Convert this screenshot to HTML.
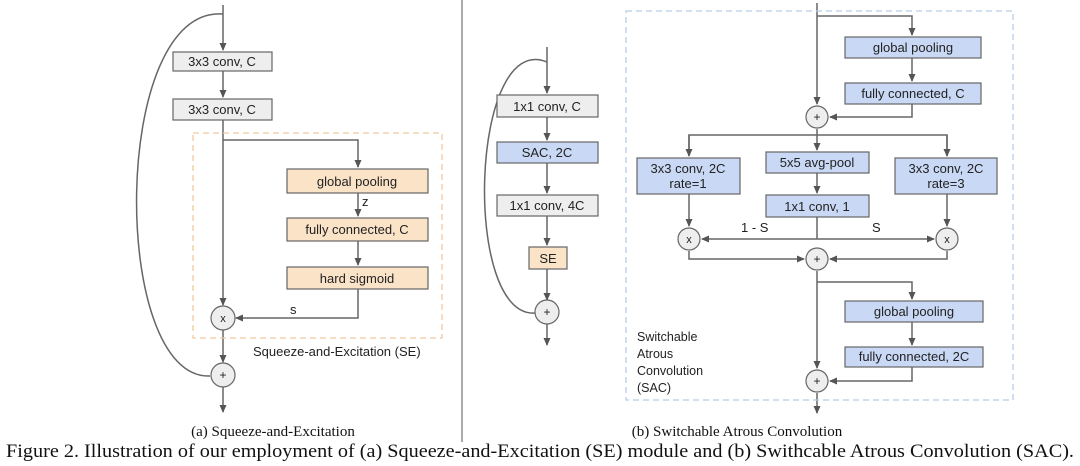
<!DOCTYPE html>
<html><head><meta charset="utf-8"><style>
html,body{margin:0;padding:0;background:#fff;width:1080px;height:466px;overflow:hidden}
svg{display:block}
.b{font-family:"Liberation Sans",sans-serif;font-size:13px;fill:#222}
.t{font-family:"Liberation Serif",serif;fill:#111}
</style></head><body>
<svg width="1080" height="466" viewBox="0 0 1080 466" xmlns="http://www.w3.org/2000/svg">
<defs><marker id="a" markerWidth="8" markerHeight="8" refX="7" refY="4" orient="auto" markerUnits="userSpaceOnUse"><path d="M0,0.5 L8,4 L0,7.5z" fill="#555"/></marker></defs>
<g stroke="#666" stroke-width="1.5" fill="none">
<!-- left -->
<line x1="223" y1="5" x2="223" y2="50" marker-end="url(#a)"/>
<line x1="223" y1="71" x2="223" y2="97" marker-end="url(#a)"/>
<line x1="223" y1="120" x2="223" y2="305" marker-end="url(#a)"/>
<polyline points="223,140 358,140 358,167" marker-end="url(#a)"/>
<line x1="358" y1="193" x2="358" y2="216" marker-end="url(#a)"/>
<line x1="358" y1="241" x2="358" y2="265" marker-end="url(#a)"/>
<polyline points="358,289 358,318 236,318" marker-end="url(#a)"/>
<line x1="223" y1="330" x2="223" y2="362" marker-end="url(#a)"/>
<line x1="223" y1="387" x2="223" y2="412" marker-end="url(#a)"/>
<path d="M223,14 C110,5 110,380 210,376"/>
<!-- middle -->
<line x1="547" y1="47" x2="547" y2="93" marker-end="url(#a)"/>
<line x1="547" y1="117" x2="547" y2="140" marker-end="url(#a)"/>
<line x1="547" y1="163" x2="547" y2="193" marker-end="url(#a)"/>
<line x1="547" y1="216" x2="547" y2="245" marker-end="url(#a)"/>
<line x1="547" y1="269" x2="547" y2="300" marker-end="url(#a)"/>
<line x1="547" y1="324" x2="547" y2="345" marker-end="url(#a)"/>
<path d="M547,62 C470,30 462,318 535,313"/>
<!-- right -->
<line x1="817" y1="3" x2="817" y2="104" marker-end="url(#a)"/>
<polyline points="817,16 912,16 912,35" marker-end="url(#a)"/>
<line x1="912" y1="58" x2="912" y2="81" marker-end="url(#a)"/>
<polyline points="912,104 912,117 830,117" marker-end="url(#a)"/>
<line x1="817" y1="129" x2="817" y2="150" marker-end="url(#a)"/>
<polyline points="689,156 689,135 947,135 947,156" />
<line x1="689" y1="135" x2="689" y2="156" marker-end="url(#a)"/>
<line x1="947" y1="135" x2="947" y2="156" marker-end="url(#a)"/>
<line x1="817" y1="173" x2="817" y2="193" marker-end="url(#a)"/>
<line x1="689" y1="194" x2="689" y2="226" marker-end="url(#a)"/>
<line x1="947" y1="194" x2="947" y2="226" marker-end="url(#a)"/>
<line x1="817" y1="217" x2="817" y2="239"/>
<line x1="817" y1="239" x2="702" y2="239" marker-end="url(#a)"/>
<line x1="817" y1="239" x2="934" y2="239" marker-end="url(#a)"/>
<polyline points="689,251 689,259 804,259" marker-end="url(#a)"/>
<polyline points="947,251 947,259 830,259" marker-end="url(#a)"/>
<line x1="817" y1="271" x2="817" y2="368" marker-end="url(#a)"/>
<polyline points="817,282 912,282 912,299" marker-end="url(#a)"/>
<line x1="912" y1="322" x2="912" y2="345" marker-end="url(#a)"/>
<polyline points="912,367 912,381 830,381" marker-end="url(#a)"/>
<line x1="817" y1="393" x2="817" y2="413" marker-end="url(#a)"/>
</g>
<!-- dashed boxes -->
<rect x="193" y="133" width="249" height="205" fill="none" stroke="#f0c9a0" stroke-width="1.3" stroke-dasharray="6,4"/>
<rect x="626" y="11" width="387" height="389" fill="none" stroke="#b8cce8" stroke-width="1.3" stroke-dasharray="6,4"/>
<line x1="462" y1="0" x2="462" y2="442" stroke="#555" stroke-width="1"/>
<!-- boxes -->
<g stroke="#666" stroke-width="1.2">
<rect x="173" y="52" width="99" height="19" fill="#eeeeee"/>
<rect x="173" y="99" width="99" height="21" fill="#eeeeee"/>
<rect x="287" y="169" width="141" height="24" fill="#fbe3c8"/>
<rect x="287" y="218" width="141" height="23" fill="#fbe3c8"/>
<rect x="287" y="267" width="141" height="22" fill="#fbe3c8"/>
<rect x="497" y="95" width="101" height="22" fill="#eeeeee"/>
<rect x="497" y="142" width="101" height="21" fill="#c9d9f5"/>
<rect x="497" y="195" width="101" height="21" fill="#eeeeee"/>
<rect x="529" y="247" width="38" height="22" fill="#fbe3c8"/>
<rect x="845" y="37" width="136" height="21" fill="#c9d9f5"/>
<rect x="845" y="83" width="136" height="21" fill="#c9d9f5"/>
<rect x="637" y="158" width="103" height="36" fill="#c9d9f5"/>
<rect x="766" y="152" width="103" height="21" fill="#c9d9f5"/>
<rect x="766" y="195" width="103" height="22" fill="#c9d9f5"/>
<rect x="895" y="158" width="102" height="36" fill="#c9d9f5"/>
<rect x="845" y="301" width="138" height="21" fill="#c9d9f5"/>
<rect x="845" y="347" width="138" height="20" fill="#c9d9f5"/>
<circle cx="223" cy="318" r="12" fill="#eee"/>
<circle cx="223" cy="375" r="12" fill="#eee"/>
<circle cx="547" cy="312" r="12" fill="#eee"/>
<circle cx="817" cy="117" r="11" fill="#eee"/>
<circle cx="689" cy="239" r="11" fill="#eee"/>
<circle cx="947" cy="239" r="11" fill="#eee"/>
<circle cx="817" cy="259" r="11" fill="#eee"/>
<circle cx="817" cy="381" r="11" fill="#eee"/>
</g>
<g class="b" text-anchor="middle">
<text x="222" y="66">3x3 conv, C</text>
<text x="222" y="114">3x3 conv, C</text>
<text x="357" y="186">global pooling</text>
<text x="357" y="234">fully connected, C</text>
<text x="357" y="283">hard sigmoid</text>
<text x="547" y="111">1x1 conv, C</text>
<text x="547" y="157">SAC, 2C</text>
<text x="547" y="210">1x1 conv, 4C</text>
<text x="548" y="263">SE</text>
<text x="913" y="52">global pooling</text>
<text x="913" y="98">fully connected, C</text>
<text x="688" y="173">3x3 conv, 2C</text>
<text x="688" y="188">rate=1</text>
<text x="817" y="167">5x5 avg-pool</text>
<text x="817" y="211">1x1 conv, 1</text>
<text x="946" y="173">3x3 conv, 2C</text>
<text x="946" y="188">rate=3</text>
<text x="914" y="316">global pooling</text>
<text x="914" y="361">fully connected, 2C</text>
<text x="223" y="322" font-size="11">x</text>
<text x="223" y="379" font-size="12">+</text>
<text x="547" y="316" font-size="12">+</text>
<text x="817" y="121" font-size="12">+</text>
<text x="689" y="243" font-size="11">x</text>
<text x="947" y="243" font-size="11">x</text>
<text x="817" y="263" font-size="12">+</text>
<text x="817" y="385" font-size="12">+</text>
</g>
<g class="b">
<text x="362" y="206">z</text>
<text x="290" y="314">s</text>
<text x="253" y="356">Squeeze-and-Excitation (SE)</text>
<text x="741" y="232">1 - S</text>
<text x="872" y="232">S</text>
<text x="637" y="341" font-size="12.5">Switchable</text>
<text x="637" y="358" font-size="12.5">Atrous</text>
<text x="637" y="375" font-size="12.5">Convolution</text>
<text x="637" y="392" font-size="12.5">(SAC)</text>
</g>
<text class="t" x="273" y="436" font-size="15" text-anchor="middle">(a) Squeeze-and-Excitation</text>
<text class="t" x="737" y="436" font-size="15" text-anchor="middle">(b) Switchable Atrous Convolution</text>
<text class="t" x="6" y="457" font-size="18.5" textLength="1068" lengthAdjust="spacingAndGlyphs">Figure 2. Illustration of our employment of (a) Squeeze-and-Excitation (SE) module and (b) Swithcable Atrous Convolution (SAC).</text>
</svg>
</body></html>
